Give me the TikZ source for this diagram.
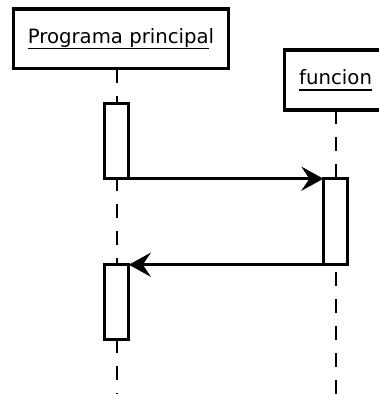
\documentclass[tikz,border=0pt]{standalone}
\usepackage{fontspec}
\setmainfont{DejaVu Sans}
\usetikzlibrary{arrows.meta}
\newcommand\myul[1]{\setbox0\hbox{#1}\rlap{\rule[-6pt]{\wd0}{1.5pt}}\box0}
\begin{document}
\begin{tikzpicture}[x=1pt,y=-1pt,
 objbox/.style={draw, line width=3.2pt, inner sep=0pt, outer sep=0pt, minimum height=59.5pt, font=\fontsize{19.7}{22}\selectfont, text height=9pt, text depth=0pt},
 actbox/.style={draw, fill=white, line width=3.2pt, inner sep=0pt, outer sep=0pt, minimum width=24pt},
 lifeline/.style={line width=2pt, dash pattern=on 14pt off 13pt},
 msg/.style={line width=3.2pt, -{Stealth[length=22pt,width=24pt,inset=8pt]}}]
\useasboundingbox (0,0) rectangle (379,394);
\node[objbox, minimum width=214.5pt] (p) at (121,38.75) {\myul{Programa principa}l};
\node[objbox, minimum width=102.8pt, minimum height=60pt] (f) at (335.6,80) {\myul{funcion}};
\coordinate (pend) at (116.8,394);
\coordinate (fend) at (335.6,394);
\draw[lifeline] (p.south -| pend) -- (pend);
\draw[lifeline] (f.south) -- (fend);
\node[actbox, minimum height=75pt] (a1) at (116.8,141.2) {};
\node[actbox, minimum height=86pt] (a2) at (335.4,221.7) {};
\node[actbox, minimum height=75pt] (a3) at (116.8,302.2) {};
\draw[msg] (a1.south east) -- (a2.north west);
\draw[msg] (a2.south west) -- (a3.north east);
\end{tikzpicture}
\end{document}
